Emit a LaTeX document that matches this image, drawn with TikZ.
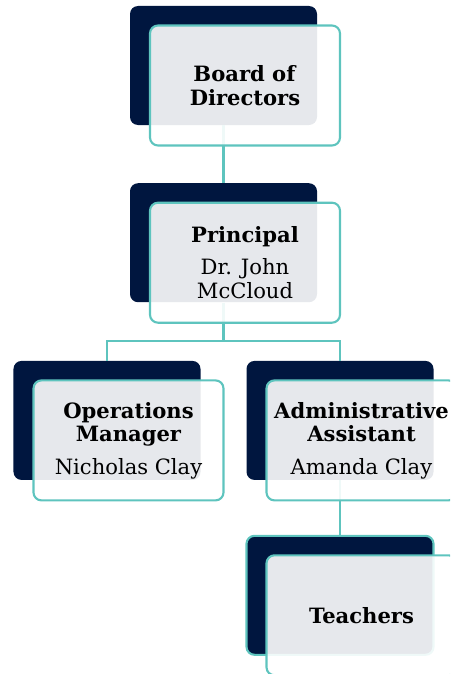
\documentclass[tikz,border=0pt]{standalone}
\usepackage{fontspec}
\setmainfont{DejaVu Serif}
\usepackage{tikz}
\usetikzlibrary{positioning,calc}

\definecolor{navy}{HTML}{00163F}
\definecolor{tealline}{HTML}{5EC4BE}

\begin{document}
\begin{tikzpicture}[
    node distance=1.15cm,
    back/.style={rectangle, rounded corners=0.16cm, fill=navy, minimum width=3.74cm, minimum height=2.38cm, inner sep=0pt},
    card/.style={rectangle, rounded corners=0.16cm, draw=tealline, line width=1.2pt, fill=white, fill opacity=0.9, text opacity=1, minimum width=3.8cm, minimum height=2.4cm, inner sep=0pt, align=center, font=\fontsize{12}{13.4}\selectfont},
    link/.style={draw=tealline, line width=1.2pt},
]
    \clip (0,0) rectangle (9,-13.48);

    % Dark backing boxes
    \node[back] (board_bg) at (4.47,-1.31) {};
    \node[back, below=of board_bg] (principal_bg) {};
    \node[back, below=1.16cm of principal_bg, xshift=-2.33cm] (ops_bg) {};
    \node[back, below=1.16cm of principal_bg, xshift=2.33cm] (admin_bg) {};
    \node[back, draw=tealline, line width=1.2pt, below=1.09cm of admin_bg] (teach_bg) {};

    % Connectors
    \coordinate (split) at ($(principal_bg.south)+(0,-0.77)$);
    \draw[link] (board_bg.south) -- (principal_bg.north);
    \draw[link] (principal_bg.south) -- (split) -| (ops_bg.north);
    \draw[link] (split) -| (admin_bg.north);
    \draw[link] (admin_bg.south) -- (teach_bg.north);

    % Cards
    \node[card] (board) at ($(board_bg)+(0.43,-0.4)$) {\textbf{Board of}\\\textbf{Directors}};
    \node[card] (principal) at ($(principal_bg)+(0.43,-0.4)$) {\textbf{Principal}\\[5pt]Dr. John\\McCloud};
    \node[card] (ops) at ($(ops_bg)+(0.43,-0.4)$) {\textbf{Operations}\\\textbf{Manager}\\[5pt]Nicholas Clay};
    \node[card] (admin) at ($(admin_bg)+(0.43,-0.4)$) {\textbf{Administrative}\\\textbf{Assistant}\\[5pt]Amanda Clay};
    \node[card] (teach) at ($(teach_bg)+(0.43,-0.4)$) {\textbf{Teachers}};
\end{tikzpicture}
\end{document}
